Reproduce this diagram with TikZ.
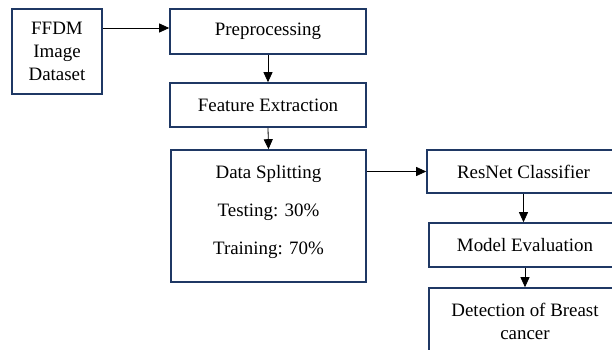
\documentclass[tikz,border=0pt]{standalone}
\usepackage{fontspec}
\setmainfont{Liberation Serif}
\usetikzlibrary{arrows.meta}
\definecolor{rahmen}{RGB}{31,56,100}
\tikzset{
  blok/.style={draw=rahmen, line width=1.6bp, fill=white, align=center, inner sep=0pt},
  pfeil/.style={-{Triangle[length=10bp,width=9bp]}, line width=0.8bp, black}
}
\begin{document}
\begin{tikzpicture}[x=1bp, y=-1bp, font=\rmfamily\fontsize{19}{23}\selectfont]
    \useasboundingbox (0,0) rectangle (612,349);
    \clip (0,0) rectangle (612,349);

    % Eingang
    \node[blok, minimum width=90bp, minimum height=85bp] (ffdm) at (57,51.5) {FFDM\\Image\\Dataset};

    % mittlere Spalte
    \node[blok, minimum width=196bp, minimum height=45bp] (prep) at (268,31.5) {Preprocessing};
    \node[blok, minimum width=196bp, minimum height=44bp] (feat) at (268,105) {Feature Extraction};
    \node[blok, minimum width=195bp, minimum height=132bp] (split) at (268.5,216)
        {Data Splitting\\[15bp]Testing: 30\%\\[15bp]Training: 70\%\\[-11bp]\mbox{}};

    % rechte Spalte
    \node[blok, minimum width=193bp, minimum height=43bp] (resnet) at (523.5,171.5) {ResNet Classifier};
    \node[blok, minimum width=192bp, minimum height=44bp] (eval) at (525,245) {Model Evaluation};
    \node[blok, minimum width=192bp, minimum height=66bp] (detect) at (525,321) {Detection of Breast\\cancer};

    % Pfeile
    \draw[pfeil] (ffdm.east |- 0,28) -- (prep.west |- 0,28);
    \draw[pfeil] (prep.south) -- (feat.north);
    \draw[pfeil] (feat.south) -- (split.north);
    \draw[pfeil] (split.east |- resnet.west) -- (resnet.west);
    \draw[pfeil] (resnet.south) -- (resnet.south |- eval.north);
    \draw[pfeil] (eval.south) -- (detect.north);
\end{tikzpicture}
\end{document}
